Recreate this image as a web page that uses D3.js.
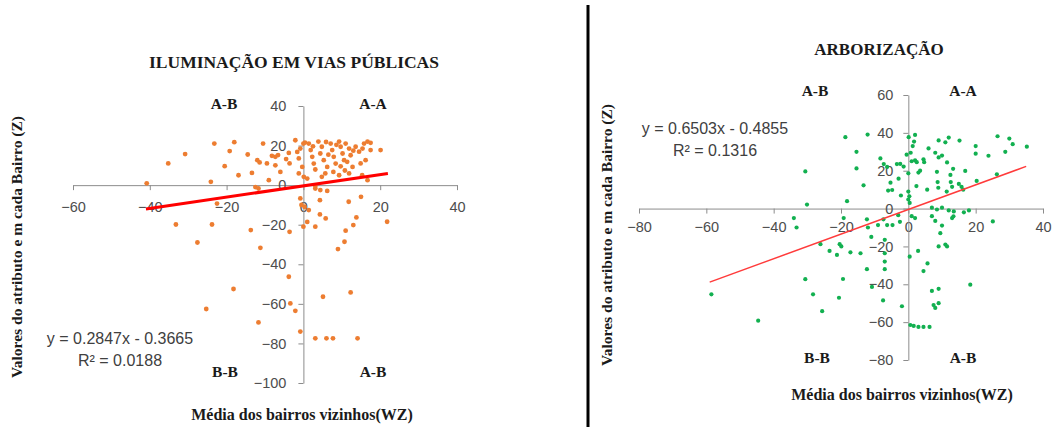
<!DOCTYPE html>
<html>
<head>
<meta charset="utf-8">
<script src="https://cdn.jsdelivr.net/npm/d3@7.9.0/dist/d3.min.js"></script>
<style>
  body { margin: 0; background: #fff; }
  svg { display: block; }
  .tick text { font-family: "Liberation Sans", sans-serif; font-size: 14.5px; fill: #4d4d4d; }
  .tick line, .domain { stroke: #8c8c8c; }
  .serif { font-family: "Liberation Serif", serif; font-weight: bold; fill: #1a1a1a; }
  .eq { font-family: "Liberation Sans", sans-serif; font-size: 16px; fill: #404040; }
</style>
</head>
<body>
<svg id="chart" width="1054" height="427"></svg>
<script>
// Iluminação em vias públicas: [WZ, Z]
const iluminacao = [
  [-40.8,0.9],[-35.2,11],[-30.8,15.7],[-23.2,21],[-24.1,1.7],[-18,21.7],[-19.2,17.2],[-20.5,9.6],
  [-16.9,5],[-14.5,15.5],[-13.4,6.2],[-12,12.6],[-11.4,11.5],[-10.5,21],[-9,2.5],[-9.5,11],
  [-7.3,14.3],[-6.6,15.2],[-7.3,10],[-6,6.7],[-3.8,16.3],[-3.6,11],[-2.1,22.7],[-1.6,16.8],
  [-1.2,13.5],[-1.2,5.9],[-0.8,18.5],[0,21],[0.4,21.5],[-12.5,-1],[-11.7,-1.7],[-0.3,9.2],
  [0.1,4.2],[1,3.3],[1.4,21],[1.9,17.7],[2.3,14.3],[2.7,10.9],[3.1,7.9],[3.9,22],[4.8,19.4],
  [4.4,16],[5.3,12.6],[6.2,9.2],[5.7,5.9],[7.1,21],[7.5,17.7],[7.9,14.3],[8.4,10.9],[7.8,6.7],
  [9.3,22],[9.7,19.4],[10.2,16],[10.6,12.6],[9.7,9.5],[11,21],[11.9,18.5],[12.3,15.1],
  [11.4,11.8],[12.8,9.2],[11.9,5.9],[13.6,19.4],[14.5,16.9],[15.4,18.5],[15.8,21],[16.7,22],
  [17.5,21.4],[14.9,11],[16.2,12.6],[17.5,17.7],[20.1,17.7],[15.3,5],[16.7,2.5],[9.3,5],
  [4.8,4.2],[3.1,-1.7],[4.4,-2.5],[-8.2,14.8],[-4.5,13.2],[2.5,19.6],[6.5,15.4],[8.6,20.4],
  [13,17.4],[10.8,7.4],[5.9,21.8],
  [-33.2,-19.9],[-23.8,-19.9],[-27.6,-29],[-22.5,-9.3],[-13.7,-22.7],[-11.2,-31.7],[-3.6,-23.6],
  [-18.2,-52.5],[-25.3,-62.6],[-11.7,-69.4],[-3.8,-46.3],[-3.4,-59.8],[-2.1,-63.5],[-0.8,-74],
  [-0.8,-6.7],[-0.5,-10],[0.3,-11],[1.4,-12.6],[1,-18.6],[0,-21],
  [3.1,-21],[4.3,-7.6],[4.3,-14.8],[5.8,-16.8],[3.1,-0.4],[6.2,-2.9],[11.8,-8.4],[15,-5.9],
  [13.8,-16.3],[13,-20.2],[11,-23],[10.7,-28.6],[9,-32.3],[21.8,-18.5],[5.1,-56.4],[12.3,-54.2],
  [3.1,-77.4],[6,-77.4],[7.7,-77.4],[14.1,-77.4]
];

// Arborização: [WZ, Z]
const arborizacao = [
  [-30.6,19.6],[-30.1,2.1],[-18.7,37.7],[-18.2,3.9],[-15.4,30],[-15.4,21.2],[-13.3,12.3],
  [-12.1,39.1],[-8.3,26.5],[-7.3,23.5],[-6.3,22],[-5.3,13.7],[-6,9.5],[-4.8,9.8],[-3.4,23.5],
  [-2.4,23.6],[-1.4,22.2],[-2.9,15.8],[-2.2,6.9],[0.1,37.7],[2,38.9],[1.7,35.4],[1.3,33],
  [-0.5,28.5],[0.7,29.5],[0,18.6],[0,9],[0.3,6.5],[0,4.8],[0.4,3],[1,25],[2,25.5],[2.5,24.5],
  [2.4,11.9],[3,19],[3.5,20],[4.5,26],[4.7,24.5],[6,31.8],[5.6,10],[8,29.5],[8.5,19.4],
  [8.7,14],[8.9,11],[9,27],[10,28],[9,36],[11,35],[12,37.5],[11.5,24.4],[12.5,17.8],[13.3,21],
  [12.6,14],[13,11.5],[11.4,9],[15.2,35.9],[15,13],[15.8,11.5],[16.3,10],[16.9,19.9],[20,33],
  [20,29],[20.3,14.6],[23.8,27.9],[26.3,18.1],[26.5,38.2],[28.8,30],[30,37],[31,34],[35.2,32.7],
  [7,0.5],[8.5,-0.5],[10,0.5],[12,-1],[13.5,-1.5],[16.5,-2],
  [-34,-5],[-33.2,-10],[-26.1,-18.8],[-23.4,-22.4],[-21.2,-24.5],[-20.4,-18.8],[-19.9,-20],
  [-19.2,-5],[-17.2,-23.1],[-14.2,-23.6],[-12.3,-5.7],[-12,-10],[-11,-15],[-12.3,-32],
  [-9,-8.7],[-6.3,-8.7],[-4.7,-8.7],[-7.4,-5.7],[-7,-16.5],[-7,-23.6],[-7,-28],[-7,-32],
  [-10.8,-41.4],[-7.5,-48.5],[-1.9,-51.6],[-3,-3.5],[-2.5,-7],[0.4,-25.4],[0.6,-61.5],
  [1.6,-62],[3,-62.5],[4.5,-62.5],[6.3,-62.5],[2.9,-22.4],[4.5,-33],[5.7,-29],[7,-43.5],
  [9,-42.4],[7.5,-51],[8,-52.5],[9,-50],[9,-20],[11,-19],[1,-4],[2,-5],[7,-4],[8,-6.5],
  [10,-9],[-58.5,-45.3],[-44.6,-59.2],[-30.6,-37.3],[-28.3,-45.3],[-25.6,-54.2],[-19.4,-37.2],
  [-20.6,-47.1],[18.4,-40.2],[25.1,-6.8],[18,-1],[13,-5],[9.5,-13],[11.5,-20],[13.4,-4.1]
];

// trend lines: slope, intercept, x range
const trendIlum = { slope: 0.2847, intercept: -0.3665, from: -41, to: 22 };
const trendArbo = { slope: 0.6503, intercept: -0.4855, from: -59, to: 35 };

const xTicksIlum = [-60, -40, -20, 0, 20, 40];
const yTicksIlum = [-100, -80, -60, -40, -20, 0, 20, 40];
const xTicksArbo = [-80, -60, -40, -20, 0, 20, 40];
const yTicksArbo = [-80, -60, -40, -20, 0, 20, 40, 60];

const svg = d3.select('#chart');

// separator
svg.append('line')
  .attr('x1', 588).attr('x2', 588).attr('y1', 5).attr('y2', 427)
  .attr('stroke', '#000').attr('stroke-width', 3);

drawPanel({
  data: iluminacao, trend: trendIlum,
  xDomain: [-60, 40], xRange: [73, 457], yDomain: [40, -100], yRange: [106, 383],
  xTicks: xTicksIlum, yTicks: yTicksIlum, xPad: 12, yPad: 12,
  color: '#ED7D31', r: 2.4, lineColor: '#ff0000', lineWidth: 3,
  title: 'ILUMINAÇÃO EM VIAS PÚBLICAS', titleX: 294, titleY: 68, titleSize: 17.5,
  quad: [['A-B', 224, 109], ['A-A', 373, 109], ['B-B', 225, 377], ['A-B', 373, 377]],
  eq: ['y = 0.2847x - 0.3665', 'R² = 0.0188'], eqX: 120, eqY: [344, 366],
  yTitleX: 22, yTitleY: 247, xTitleX: 302, xTitleY: 420
});

drawPanel({
  data: arborizacao, trend: trendArbo,
  xDomain: [-80, 40], xRange: [639, 1043], yDomain: [60, -80], yRange: [95, 360],
  xTicks: xTicksArbo, yTicks: yTicksArbo, xPad: 8, yPad: 10,
  color: '#12B050', r: 2.1, lineColor: '#ff3b3b', lineWidth: 1.5,
  title: 'ARBORIZAÇÃO', titleX: 879, titleY: 55, titleSize: 17,
  quad: [['A-B', 815, 96], ['A-A', 963, 96], ['B-B', 817, 363], ['A-B', 963, 363]],
  eq: ['y = 0.6503x - 0.4855', 'R² = 0.1316'], eqX: 715, eqY: [134, 156],
  yTitleX: 612, yTitleY: 235, xTitleX: 902, xTitleY: 400
});

function drawPanel(o) {
  let x = d3.scaleLinear().domain(o.xDomain).range(o.xRange);
  let y = d3.scaleLinear().domain(o.yDomain).range(o.yRange);
  let g = svg.append('g');

  g.append('g')
    .attr('transform', `translate(0,${y(0)})`)
    .call(d3.axisBottom(x).tickValues(o.xTicks).tickSize(5).tickSizeOuter(0).tickPadding(o.xPad));

  g.append('g')
    .attr('transform', `translate(${x(0)},0)`)
    .call(d3.axisLeft(y).tickValues(o.yTicks).tickSize(5).tickSizeOuter(0).tickPadding(o.yPad));

  g.selectAll('circle')
    .data(o.data)
    .join('circle')
    .attr('cx', d => x(d[0]))
    .attr('cy', d => y(d[1]))
    .attr('r', o.r)
    .attr('fill', o.color);

  let t = o.trend;
  g.append('line')
    .attr('x1', x(t.from)).attr('y1', y(t.slope * t.from + t.intercept))
    .attr('x2', x(t.to)).attr('y2', y(t.slope * t.to + t.intercept))
    .attr('stroke', o.lineColor).attr('stroke-width', o.lineWidth);

  g.append('text').attr('class', 'serif')
    .attr('x', o.titleX).attr('y', o.titleY)
    .attr('text-anchor', 'middle').attr('font-size', o.titleSize)
    .text(o.title);

  o.quad.forEach(q => {
    g.append('text').attr('class', 'serif')
      .attr('x', q[1]).attr('y', q[2])
      .attr('text-anchor', 'middle').attr('font-size', 15.5)
      .text(q[0]);
  });

  o.eq.forEach((s, i) => {
    g.append('text').attr('class', 'eq')
      .attr('x', o.eqX).attr('y', o.eqY[i])
      .attr('text-anchor', 'middle')
      .text(s);
  });

  g.append('text').attr('class', 'serif')
    .attr('transform', `translate(${o.yTitleX},${o.yTitleY}) rotate(-90)`)
    .attr('text-anchor', 'middle').attr('font-size', 15.5)
    .text('Valores do atributo e m cada Bairro (Z)');

  g.append('text').attr('class', 'serif')
    .attr('x', o.xTitleX).attr('y', o.xTitleY)
    .attr('text-anchor', 'middle').attr('font-size', 16)
    .text('Média dos bairros vizinhos(WZ)');
}
</script>
</body>
</html>
